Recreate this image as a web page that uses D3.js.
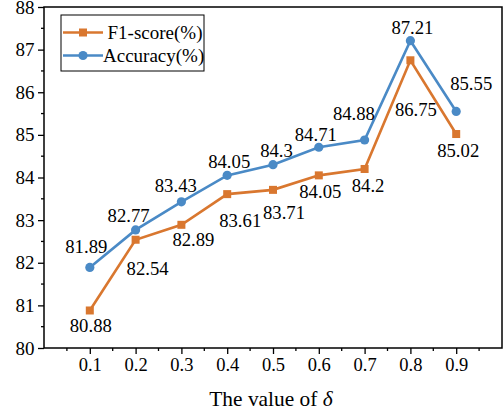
<!DOCTYPE html>
<html>
<head>
<meta charset="utf-8">
<script src="https://cdn.jsdelivr.net/npm/d3@7"></script>
<style>
  html, body { margin: 0; padding: 0; background: #fff; }
  svg { display: block; font-family: "Liberation Serif", "Times New Roman", serif; }
</style>
</head>
<body>
<svg id="chart" width="503" height="414"></svg>
<script>
// ---- data ----
const categories = [0.1, 0.2, 0.3, 0.4, 0.5, 0.6, 0.7, 0.8, 0.9];
const f1Values  = [80.88, 82.54, 82.89, 83.61, 83.71, 84.05, 84.2, 86.75, 85.02];
const accValues = [81.89, 82.77, 83.43, 84.05, 84.3, 84.71, 84.88, 87.21, 85.55];
const seriesNames = ["F1-score(%)", "Accuracy(%)"];
const xTickLabels = ["0.1", "0.2", "0.3", "0.4", "0.5", "0.6", "0.7", "0.8", "0.9"];
const yTickLabels = [80, 81, 82, 83, 84, 85, 86, 87, 88];

// ---- layout (label placement offsets, px: [dx, baseline dy]) ----
const f1LabelOffsets  = [[1, 22], [12, 35], [12, 21], [13, 33], [11, 29], [1.5, 23], [3.5, 23], [5.5, 56], [2, 23]];
const accLabelOffsets = [[-3.5, -14], [-7, -8], [-5.6, -10], [2, -7], [3.5, -8], [-3, -6], [-10.7, -20], [2, -7], [15, -21]];

const colors = { f1: "#D9772F", acc: "#4A8AC6" };
const serif = "Liberation Serif";

const svg = d3.select("#chart");
const L = 44, R = 502, T = 7, B = 348;

const x = d3.scaleLinear().domain([0, 1]).range([L, R]);
const y = d3.scaleLinear().domain([80, 88]).range([B, T]);

// minor ticks
const xMinor = d3.range(0.05, 1.0, 0.1);
const yMinor = d3.range(80.5, 88, 1);

const g = svg.append("g");

// frame
g.append("rect").attr("x", L).attr("y", T).attr("width", R - L).attr("height", B - T)
  .attr("fill", "none").attr("stroke", "#000").attr("stroke-width", 1.5);

// x axis
const xAxis = d3.axisBottom(x).tickValues(categories)
  .tickFormat((d, i) => xTickLabels[i]).tickSize(6).tickPadding(4);
const xg = g.append("g").attr("transform", `translate(0,${B})`).call(xAxis)
  .attr("font-family", serif);
xg.select(".domain").remove();
xg.selectAll("line").attr("stroke", "#000").attr("stroke-width", 1.3);
xg.selectAll("text").attr("font-size", 18.5).attr("font-family", serif).attr("fill", "#000");
g.append("g").selectAll("line").data(xMinor).join("line")
  .attr("x1", d => x(d)).attr("x2", d => x(d)).attr("y1", B).attr("y2", B + 3)
  .attr("stroke", "#000").attr("stroke-width", 1.3);

// y axis
const yAxis = d3.axisLeft(y).tickValues(yTickLabels).tickFormat(d => d).tickSize(6).tickPadding(3.5);
const yg = g.append("g").attr("transform", `translate(${L},0)`).call(yAxis)
  .attr("font-family", serif);
yg.select(".domain").remove();
yg.selectAll("line").attr("stroke", "#000").attr("stroke-width", 1.3);
yg.selectAll("text").attr("font-size", 19).attr("font-family", serif).attr("fill", "#000");
g.append("g").selectAll("line").data(yMinor).join("line")
  .attr("x1", L - 3).attr("x2", L).attr("y1", d => y(d)).attr("y2", d => y(d))
  .attr("stroke", "#000").attr("stroke-width", 1.3);

// axis title
const title = svg.append("text").attr("x", 271).attr("y", 406).attr("text-anchor", "middle")
  .attr("font-size", 21.4).attr("fill", "#000");
title.append("tspan").text("The value of ");
title.append("tspan").attr("font-style", "italic").text("δ");

// lines
const line = d3.line().x((d, i) => x(categories[i])).y(d => y(d));
function drawSeries(vals, color, marker, offsets) {
  g.append("path").datum(vals).attr("d", line).attr("fill", "none")
    .attr("stroke", color).attr("stroke-width", 2.6).attr("stroke-linejoin", "miter");
  const pts = g.append("g").selectAll("g").data(vals).join("g")
    .attr("transform", (d, i) => `translate(${x(categories[i])},${y(d)})`);
  if (marker === "square") {
    pts.append("rect").attr("x", -4).attr("y", -4).attr("width", 8).attr("height", 8).attr("fill", color);
  } else {
    pts.append("circle").attr("r", 4.6).attr("fill", color);
  }
  g.append("g").selectAll("text").data(vals).join("text")
    .attr("x", (d, i) => x(categories[i]) + offsets[i][0])
    .attr("y", (d, i) => y(d) + offsets[i][1])
    .attr("text-anchor", "middle").attr("font-size", 18.7).attr("fill", "#000")
    .text(d => d);
}
drawSeries(f1Values, colors.f1, "square", f1LabelOffsets);
drawSeries(accValues, colors.acc, "circle", accLabelOffsets);

// legend
const lg = svg.append("g");
lg.append("rect").attr("x", 61).attr("y", 15).attr("width", 143).attr("height", 56)
  .attr("fill", "#fff").attr("stroke", "#000").attr("stroke-width", 1);
const legendItems = [
  { name: seriesNames[0], color: colors.f1, marker: "square", yy: 32.5, tx: 107.5 },
  { name: seriesNames[1], color: colors.acc, marker: "circle", yy: 55.5, tx: 103 }
];
legendItems.forEach(it => {
  lg.append("line").attr("x1", 63).attr("x2", 103).attr("y1", it.yy).attr("y2", it.yy)
    .attr("stroke", it.color).attr("stroke-width", 2.6);
  if (it.marker === "square") {
    lg.append("rect").attr("x", 79).attr("y", it.yy - 4).attr("width", 8).attr("height", 8).attr("fill", it.color);
  } else {
    lg.append("circle").attr("cx", 83).attr("cy", it.yy).attr("r", 4.6).attr("fill", it.color);
  }
  lg.append("text").attr("x", it.tx).attr("y", it.yy + 6.5).attr("font-size", 19).attr("fill", "#000").text(it.name);
});
</script>
</body>
</html>
